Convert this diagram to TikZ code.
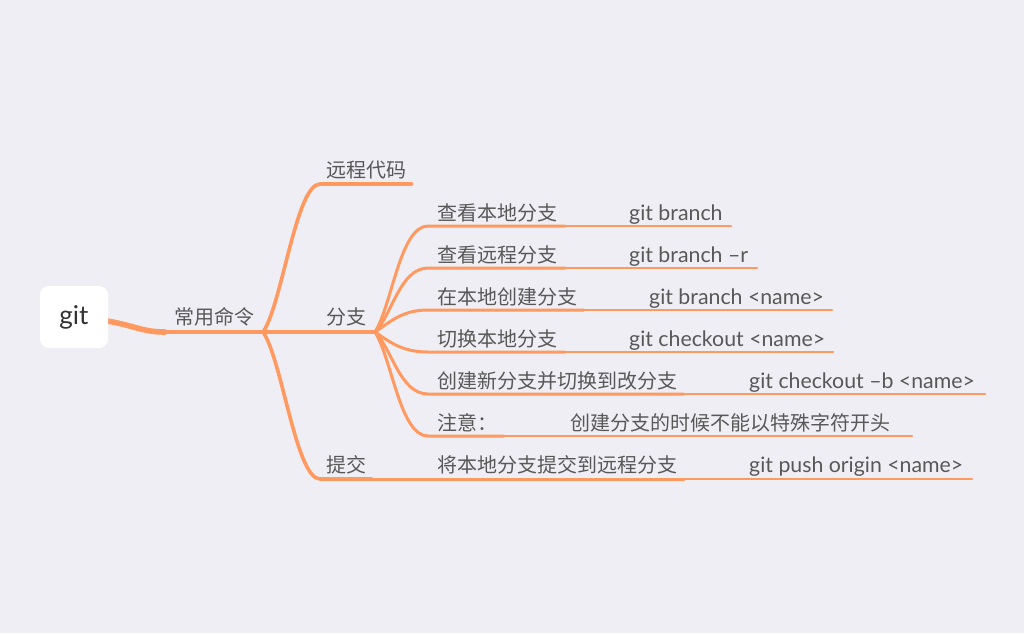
\documentclass[tikz,border=0pt]{standalone}
\usepackage{fontspec}
\setmainfont{Lato}
\newfontfamily\cjk{Noto Sans CJK SC}
\definecolor{bgc}{RGB}{239,238,244}
\definecolor{lineor}{RGB}{255,153,95}
\definecolor{txtc}{RGB}{88,88,88}
\definecolor{gitc}{RGB}{50,50,50}
\begin{document}
\begin{tikzpicture}[x=1pt,y=-1pt,line cap=round,
  trunk/.style={draw=lineor,line width=4.8pt},
  lvl1/.style={draw=lineor,line width=3.6pt},
  lvl2/.style={draw=lineor,line width=3pt},
  leaf/.style={draw=lineor,line width=2.6pt},
  cn/.style={anchor=base west,inner sep=0pt,text=txtc,font=\cjk\fontsize{20}{20}\selectfont},
  en/.style={anchor=base west,inner sep=0pt,text=txtc,font=\fontsize{21.3}{21.3}\selectfont}]
\fill[bgc] (0,0) rectangle (1024,633);
\useasboundingbox (0,0) rectangle (1024,633);

% coordinates
\coordinate (gs) at (96,319);
\coordinate (j1) at (263,332);
\coordinate (j2) at (375,332);
\coordinate (ycS) at (320,184); \coordinate (ycE) at (412,184);
\coordinate (tjS) at (320,479); \coordinate (tjE) at (372,479);
\foreach \n/\y/\pe/\ce in {1/226/565/731,2/268/565/757,3/310/584/832,4/352/565/833,5/394/684/985,6/436/504/912}{
  \coordinate (s\n) at (428,\y);
  \coordinate (p\n) at (\pe,\y);
  \coordinate (e\n) at (\ce,\y);
}
\coordinate (p7) at (684,479);
\coordinate (e7) at (972,479);

% trunk (drawn under the root box)
\draw[trunk,line width=5.6pt] (gs) -- (110,321.5) .. controls (135,326) and (143,332) .. (165,332);
\draw[trunk] (163,332) -- (j1);

% root
\node[fill=white,rounded corners=9pt,minimum width=68pt,minimum height=62pt,inner sep=0pt,
  text=gitc,font=\fontsize{26}{26}\selectfont] (git) at (74,317) {git};

% level 1 texts
\node[cn] (cy) at (174,324) {常用命令};
\node[cn] (yc) at (326,177) {远程代码};
\node[cn] (fz) at (326,324) {分支};
\node[cn] (tj) at (326,472) {提交};

% level 2 texts
\node[cn] (b1) at (437,220) {查看本地分支};
\node[cn] (b2) at (437,262) {查看远程分支};
\node[cn] (b3) at (437,304) {在本地创建分支};
\node[cn] (b4) at (437,346) {切换本地分支};
\node[cn] (b5) at (437,388) {创建新分支并切换到改分支};
\node[cn] (b6) at (437,430) {注意：};
\node[cn] (t1) at (437,472) {将本地分支提交到远程分支};

% leaf texts
\node[en] (c1) at (629,220) {git branch};
\node[en] (c2) at (629,262) {git branch –r};
\node[en] (c3) at (649,304) {git branch <name>};
\node[en] (c4) at (629,346) {git checkout <name>};
\node[en] (c5) at (749,388) {git checkout –b <name>};
\node[cn] (c6) at (570,430) {创建分支的时候不能以特殊字符开头};
\node[en] (c7) at (749,472) {git push origin <name>};

% level 1 connectors
\draw[lvl1] (j1) .. controls (282,305) and (296,184) .. (ycS) -- (ycE);
\draw[lvl1] (j1) -- (j2);
\draw[lvl1] (j1) .. controls (282,359) and (296,479) .. (tjS) -- (tjE);

% level 2 connectors
\draw[lvl2] (j2) .. controls (392,305) and (400,226) .. (s1) -- (p1);
\draw[lvl2] (j2) .. controls (392,315) and (400,268) .. (s2) -- (p2);
\draw[lvl2] (j2) .. controls (390,322) and (402,310) .. (s3) -- (p3);
\draw[lvl2] (j2) .. controls (390,342) and (402,352) .. (s4) -- (p4);
\draw[lvl2] (j2) .. controls (392,349) and (400,394) .. (s5) -- (p5);
\draw[lvl2] (j2) .. controls (392,359) and (400,436) .. (s6) -- (p6);
\draw[lvl2] (tjE) -- (p7);

% leaf connectors
\foreach \n in {1,...,7}{\draw[leaf] (p\n) -- (e\n);}
\end{tikzpicture}
\end{document}
